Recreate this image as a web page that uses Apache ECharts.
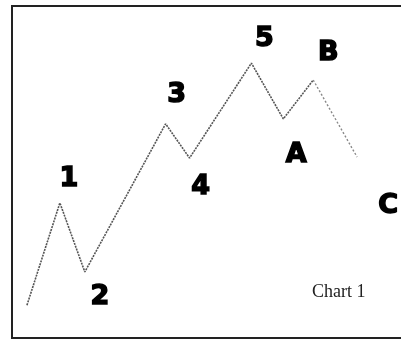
<!DOCTYPE html>
<html>
<head>
<meta charset="utf-8">
<script src="https://cdn.jsdelivr.net/npm/echarts@6/dist/echarts.min.js"></script>
<style>
  html, body { margin: 0; padding: 0; background: #fff; }
  #main { width: 401px; height: 339px; }
</style>
</head>
<body>
<div id="main"></div>
<script>
// wave path (time units, price units)
var waveX = [1.5, 4.8, 7.3, 15.4, 17.8, 24.0, 27.2, 30.2];
var waveY = [9.9, 40.7, 19.9, 64.5, 54.2, 82.8, 66.0, 77.7];
// faded last leg B -> C
var tailX = [30.2, 34.6];
var tailY = [77.7, 54.5];
// wave labels and where they sit
var waveLabels = ['1', '2', '3', '4', '5', 'A', 'B', 'C'];
var labelX = [5.7, 8.8, 16.5, 18.9, 25.3, 28.5, 31.7, 37.7];
var labelY = [48.0, 12.5, 73.3, 45.6, 90.2, 55.2, 85.9, 39.9];

var myChart = echarts.init(document.getElementById('main'));

function pairs(xs, ys) {
  var out = [];
  for (var i = 0; i < xs.length; i++) out.push([xs[i], ys[i]]);
  return out;
}

var labelData = [];
for (var i = 0; i < waveLabels.length; i++) {
  labelData.push({ value: [labelX[i], labelY[i]], name: waveLabels[i] });
}

var option = {
  backgroundColor: '#fff',
  animation: false,
  title: {
    text: 'Chart 1',
    left: 312,
    top: 283,
    padding: 0,
    textStyle: {
      fontFamily: 'Liberation Serif',
      fontWeight: 'normal',
      fontSize: 18,
      color: '#222'
    }
  },
  grid: {
    left: 12,
    top: 6,
    width: 399, // right edge runs off the page
    bottom: 1,
    outerBoundsMode: 'none',
    show: true,
    borderColor: '#222',
    borderWidth: 2
  },
  xAxis: {
    type: 'value',
    min: 0,
    max: 40,
    show: false
  },
  yAxis: {
    type: 'value',
    min: 0,
    max: 100,
    show: false
  },
  series: [
    {
      type: 'line',
      data: pairs(waveX, waveY),
      symbol: 'none',
      lineStyle: { color: '#555', width: 1.6, type: [2, 1] }
    },
    {
      type: 'line',
      data: pairs(tailX, tailY),
      symbol: 'none',
      lineStyle: { color: '#888', width: 1.4, type: [2, 2] }
    },
    {
      type: 'scatter',
      data: labelData,
      symbolSize: 0,
      itemStyle: { color: '#000', opacity: 1 },
      label: {
        show: true,
        position: 'inside',
        formatter: '{b}',
        fontFamily: 'DejaVu Sans',
        fontWeight: 'bold',
        fontSize: 27,
        color: '#000',
        textBorderColor: '#000',
        textBorderWidth: 1.5
      }
    }
  ]
};

myChart.setOption(option);
</script>
</body>
</html>
